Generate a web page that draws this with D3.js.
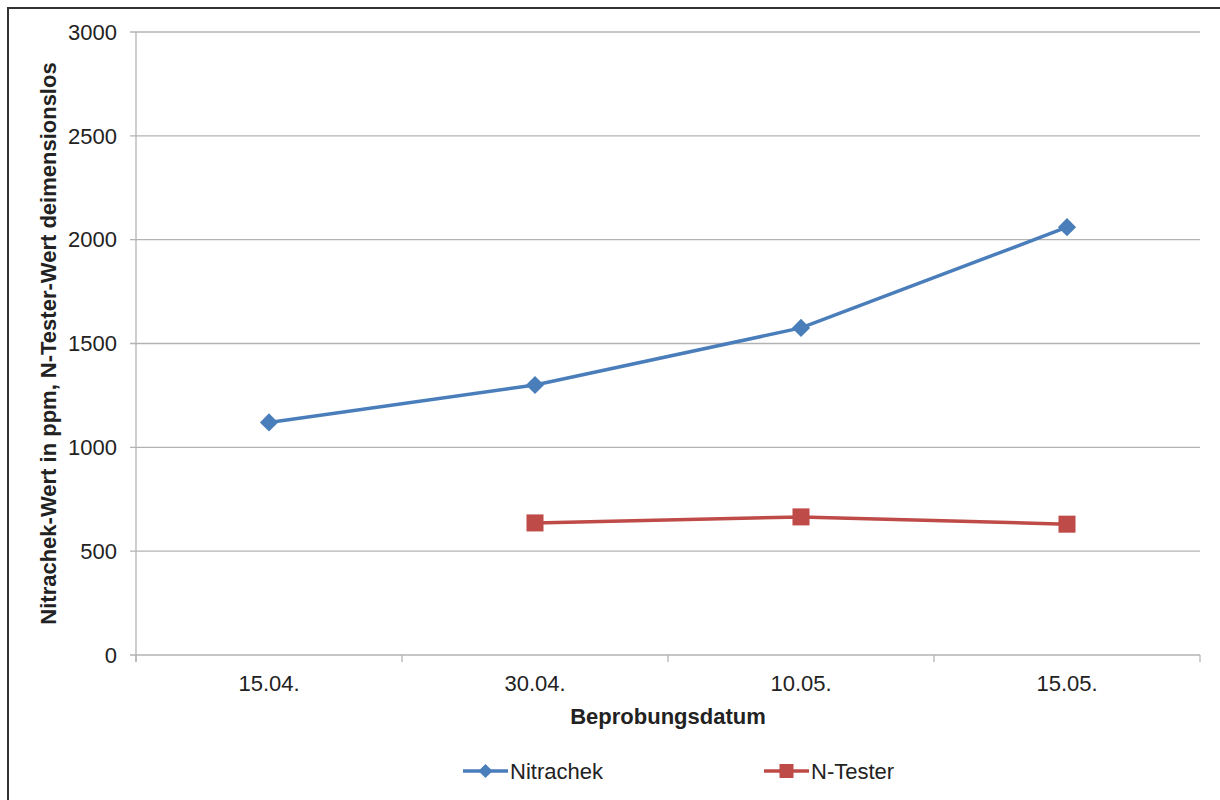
<!DOCTYPE html>
<html>
<head>
<meta charset="utf-8">
<script src="https://cdn.jsdelivr.net/npm/d3@7"></script>
<style>
  body { margin: 0; background: #fff; }
  text { font-family: "Liberation Sans", Arial, sans-serif; fill: #222; }
</style>
</head>
<body>
<div id="chart"></div>
<script>
  // data
  var dates = ["15.04.", "30.04.", "10.05.", "15.05."];
  var nitrachek = [1120, 1300, 1575, 2060];
  var nTester = [null, 636, 665, 630];
  var yTicks = [0, 500, 1000, 1500, 2000, 2500, 3000];

  var width = 1220, height = 800;
  var margin = {top: 32, right: 20, bottom: 145, left: 136};

  var svg = d3.select("#chart")
              .append("svg")
              .attr("width", width)
              .attr("height", height);

  // outer frame
  svg.append("rect")
     .attr("x", 8)
     .attr("y", 8)
     .attr("width", width + 20)
     .attr("height", height + 20)
     .attr("fill", "none")
     .attr("stroke", "#333")
     .attr("stroke-width", 2);

  var x = d3.scaleBand()
            .domain(dates)
            .range([margin.left, width - margin.right]);

  var y = d3.scaleLinear()
            .domain([0, 3000])
            .range([height - margin.bottom, margin.top]);

  // grid lines
  svg.append("g")
     .selectAll("line")
     .data(yTicks)
     .enter()
     .append("line")
     .attr("x1", margin.left - 6)
     .attr("x2", width - margin.right)
     .attr("y1", function(d) { return y(d); })
     .attr("y2", function(d) { return y(d); })
     .attr("stroke", "#b3b3b3")
     .attr("stroke-width", 1.3);

  // y axis line
  svg.append("line")
     .attr("x1", margin.left)
     .attr("x2", margin.left)
     .attr("y1", y(3000))
     .attr("y2", y(0) + 7)
     .attr("stroke", "#b3b3b3")
     .attr("stroke-width", 1.3);

  // y tick labels
  svg.append("g")
     .selectAll("text")
     .data(yTicks)
     .enter()
     .append("text")
     .attr("x", margin.left - 19)
     .attr("y", function(d) { return y(d); })
     .attr("dy", "0.35em")
     .attr("text-anchor", "end")
     .style("font-size", "22px")
     .text(function(d) { return d; });

  // x axis ticks at category boundaries
  var bounds = dates.map(function(d) { return x(d); }).concat([x(dates[dates.length - 1]) + x.bandwidth()]);
  svg.append("g")
     .selectAll("line")
     .data(bounds)
     .enter()
     .append("line")
     .attr("x1", function(d) { return d; })
     .attr("x2", function(d) { return d; })
     .attr("y1", y(0))
     .attr("y2", y(0) + 7)
     .attr("stroke", "#b3b3b3")
     .attr("stroke-width", 1.3);

  svg.append("g")
     .selectAll("text")
     .data(dates)
     .enter()
     .append("text")
     .attr("x", function(d) { return x(d) + x.bandwidth() / 2; })
     .attr("y", y(0) + 36)
     .attr("text-anchor", "middle")
     .style("font-size", "22px")
     .text(function(d) { return d; });

  // axis titles
  svg.append("text")
     .attr("x", (margin.left + width - margin.right) / 2)
     .attr("y", 724)
     .attr("text-anchor", "middle")
     .style("font-size", "22px")
     .style("font-weight", "bold")
     .text("Beprobungsdatum");

  svg.append("text")
     .attr("transform", "translate(56," + (y(1500)) + ") rotate(-90)")
     .attr("text-anchor", "middle")
     .style("font-size", "22px")
     .style("font-weight", "bold")
     .text("Nitrachek-Wert in ppm, N-Tester-Wert deimensionslos");

  var blue = "#4a7ebb", red = "#be4b48";

  var line = d3.line()
               .defined(function(d) { return d.v !== null; })
               .x(function(d) { return x(d.date) + x.bandwidth() / 2; })
               .y(function(d) { return y(d.v); });

  // diamonds are squares turned by 45 degrees
  var series = [
    {name: "Nitrachek", values: nitrachek, color: blue, size: 165, legendSize: 100, rot: 45},
    {name: "N-Tester", values: nTester, color: red, size: 290, legendSize: 196, rot: 0}
  ];

  series.forEach(function(s) {
    var pts = s.values.map(function(v, i) { return {date: dates[i], v: v}; });

    svg.append("path")
       .datum(pts)
       .attr("fill", "none")
       .attr("stroke", s.color)
       .attr("stroke-width", 3.5)
       .attr("d", line);

    svg.append("g")
       .selectAll("path")
       .data(pts.filter(function(d) { return d.v !== null; }))
       .enter()
       .append("path")
       .attr("d", d3.symbol().type(d3.symbolSquare).size(s.size))
       .attr("transform", function(d) {
         return "translate(" + (x(d.date) + x.bandwidth() / 2) + "," + y(d.v) + ") rotate(" + s.rot + ")";
       })
       .attr("fill", s.color);
  });

  // legend
  var legendX = [463, 764];
  series.forEach(function(s, i) {
    var g = svg.append("g")
               .attr("transform", "translate(" + legendX[i] + ",771)");
    g.append("line")
     .attr("x1", 0)
     .attr("x2", 45)
     .attr("stroke", s.color)
     .attr("stroke-width", 3.5);
    g.append("path")
     .attr("d", d3.symbol().type(d3.symbolSquare).size(s.legendSize))
     .attr("transform", "translate(22.5,0) rotate(" + s.rot + ")")
     .attr("fill", s.color);
    g.append("text")
     .attr("x", 47)
     .attr("dy", "0.35em")
     .style("font-size", "22px")
     .text(s.name);
  });
</script>
</body>
</html>
